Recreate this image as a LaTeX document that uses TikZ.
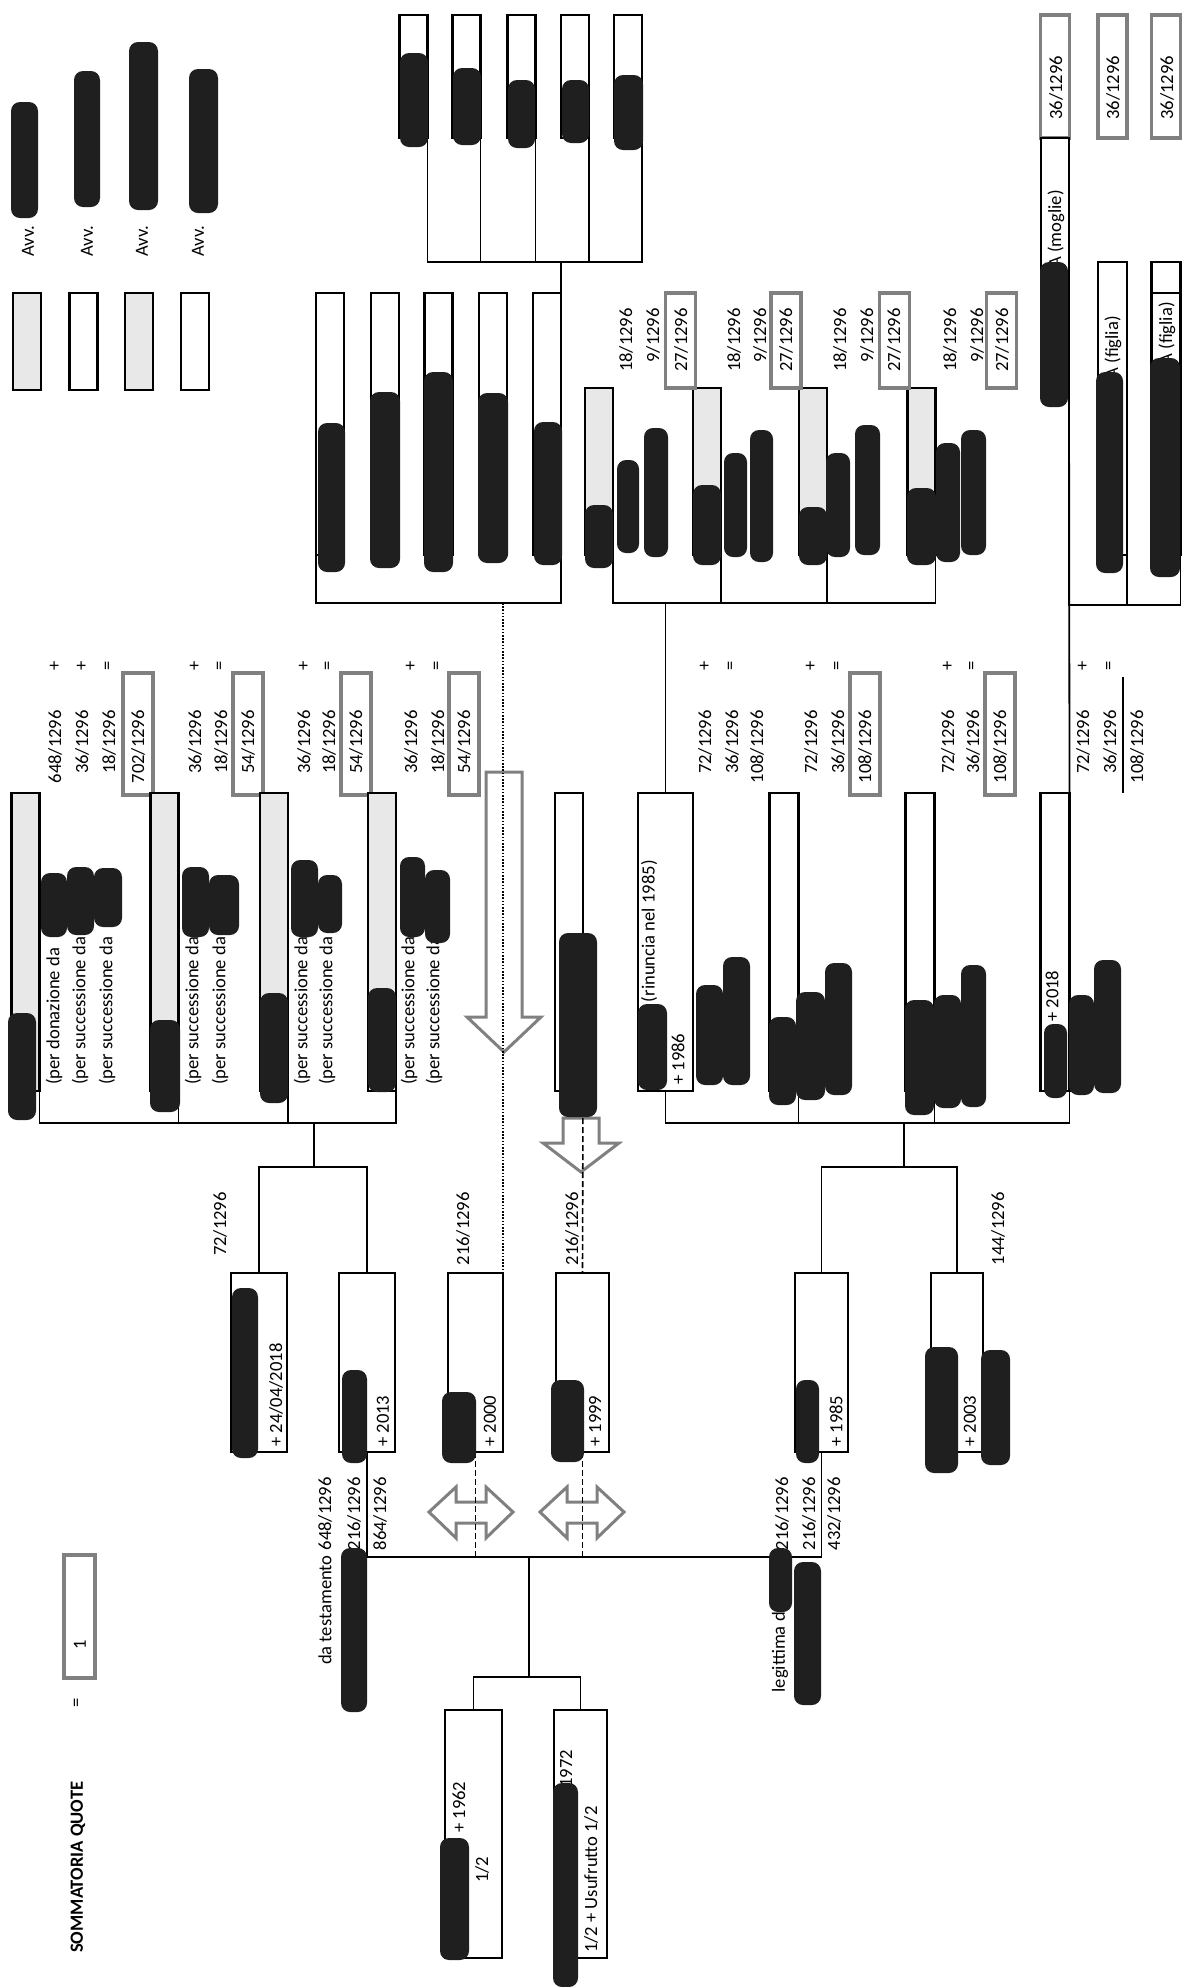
\documentclass[tikz,border=0pt]{standalone}
\usepackage{fontspec}
\setmainfont{Carlito}
\newcommand{\qfont}{\fontsize{18.6}{22}\selectfont}

\begin{document}
\begin{tikzpicture}
  [x=1pt,y=-1pt,
   person/.style={rectangle,draw=black,line width=2.6pt,fill=white,
                  outer sep=0,inner sep=0,minimum width=28pt},
   shaded/.style={person,fill=black!9},
   quota/.style={rectangle,draw=black!50,line width=3.5pt,fill=white,
                 outer sep=0,inner sep=0,minimum width=30pt},
   txt/.style={rotate=90,inner sep=0,font=\qfont},
   link/.style={line width=1.8pt},
   dotline/.style={line width=1.6pt,dash pattern=on 1.6pt off 1.6pt},
   dashline/.style={line width=1.6pt,dash pattern=on 6pt off 3pt},
   hollow/.style={draw=black!50,line width=3pt,fill=white,line join=miter},
   ink/.style={fill=black!88,rounded corners=9pt}]
  \useasboundingbox (0,0) rectangle (1184,1987);

  % legenda
  \node[shaded,minimum height=97pt] (leg1) at (27,341.5) {};
  \node[person,minimum height=97pt] (leg2) at (83.5,341.5) {};
  \node[shaded,minimum height=97pt] (leg3) at (139,341.5) {};
  \node[person,minimum height=97pt] (leg4) at (195,341.5) {};
  \node[txt,anchor=west] (avv1) at (28,257) {Avv.};
  \node[txt,anchor=west] (avv2) at (87,257) {Avv.};
  \node[txt,anchor=west] (avv3) at (142,257) {Avv.};
  \node[txt,anchor=west] (avv4) at (198,257) {Avv.};

  % pronipoti in alto
  \node[person,minimum height=123pt] (t1) at (413.5,76.5) {};
  \node[person,minimum height=123pt] (t2) at (466.5,76.5) {};
  \node[person,minimum height=123pt] (t3) at (521.5,76.5) {};
  \node[person,minimum height=123pt] (t4) at (575,76.5) {};
  \node[person,minimum height=123pt] (t5) at (628,76.5) {};
  \node[person,minimum height=262pt] (m1) at (330,424) {};
  \node[person,minimum height=262pt] (m2) at (385,424) {};
  \node[person,minimum height=262pt] (m3) at (438.5,424) {};
  \node[person,minimum height=262pt] (m4) at (493,424) {};
  \node[person,minimum height=262pt] (m5) at (547,424) {};
  \coordinate (tbar) at (561,262);
  \coordinate (mbar) at (503,603);
  \draw[link] (t1.south east) |- (t5.south east |- tbar) -- (t5.south east);
  \draw[link] (t2.south east) -- (t2.south east |- tbar);
  \draw[link] (t3.south east) -- (t3.south east |- tbar);
  \draw[link] (t4.south east) -- (t4.south east |- tbar);
  \draw[link] (tbar) -- (m5.north east);
  \draw[link] (m1.south west) |- (m5.south east |- mbar) -- (m5.south east);

  % nipoti (ramo destro)
  \node[shaded,minimum height=167pt] (k1) at (599,471.5) {};
  \node[shaded,minimum height=167pt] (k2) at (707,471.5) {};
  \node[shaded,minimum height=167pt] (k3) at (813,471.5) {};
  \node[shaded,minimum height=167pt] (k4) at (921.5,471.5) {};
  \node[quota,minimum height=95pt] (r1) at (680.5,340.5) {};
  \node[quota,minimum height=95pt] (r2) at (786,340.5) {};
  \node[quota,minimum height=95pt] (r3) at (894.5,340.5) {};
  \node[quota,minimum height=95pt] (r4) at (1001.5,340.5) {};
  \node[txt,anchor=east] (r1a) at (626,308) {18/1296};
  \node[txt,anchor=east] (r1b) at (653,308) {9/1296};
  \node[txt,anchor=east] (r1c) at (681,308) {27/1296};
  \node[txt,anchor=east] (r2a) at (734,308) {18/1296};
  \node[txt,anchor=east] (r2b) at (760,308) {9/1296};
  \node[txt,anchor=east] (r2c) at (786,308) {27/1296};
  \node[txt,anchor=east] (r3a) at (840,308) {18/1296};
  \node[txt,anchor=east] (r3b) at (867,308) {9/1296};
  \node[txt,anchor=east] (r3c) at (894,308) {27/1296};
  \node[txt,anchor=east] (r4a) at (950,308) {18/1296};
  \node[txt,anchor=east] (r4b) at (977,308) {9/1296};
  \node[txt,anchor=east] (r4c) at (1002,308) {27/1296};
  \coordinate (kbar) at (665.5,603);
  \draw[link] (k1.south east) |- (k4.south east |- kbar) -- (k4.south east);
  \draw[link] (k2.south east) -- (k2.south east |- kbar);
  \draw[link] (k3.south east) -- (k3.south east |- kbar);

  % moglie e figlie
  \node[quota,minimum width=29pt,minimum height=123pt] (s1) at (1055,76.5) {};
  \node[quota,minimum width=29pt,minimum height=123pt] (s2) at (1112.5,76.5) {};
  \node[quota,minimum width=29pt,minimum height=123pt] (s3) at (1166,76.5) {};
  \node[txt,anchor=west] (s1t) at (1056,120) {36/1296};
  \node[txt,anchor=west] (s2t) at (1113,120) {36/1296};
  \node[txt,anchor=west] (s3t) at (1167,120) {36/1296};
  \node[person,minimum height=255pt] (w) at (1055,265.5) {};
  \node[person,minimum width=29pt,minimum height=293pt] (f1) at (1112.5,408.5) {};
  \node[person,minimum width=29pt,minimum height=293pt] (f2) at (1166,408.5) {};
  \draw[line width=2.6pt] ([yshift=-31pt]f2.north west) -- ([yshift=-31pt]f2.north east);
  \node[txt,anchor=east] (wt) at (1056,190) {A (moglie)};
  \node[txt,anchor=east] (f1t) at (1113,316) {A (figlia)};
  \node[txt,anchor=east] (f2t) at (1167,302) {A (figlia)};
  \coordinate (wbar) at (1069,605);
  \draw[link] (w.south east) |- (f2.south east |- wbar) -- (f2.south east);
  \draw[link] (f1.south east) -- (f1.south east |- wbar);

  % somme quote
  \node[quota,minimum height=122pt] (q1) at (138,734) {};
  \node[quota,minimum height=122pt] (q2) at (248,734) {};
  \node[quota,minimum height=122pt] (q3) at (356,734) {};
  \node[quota,minimum height=122pt] (q4) at (464,734) {};
  \node[quota,minimum height=122pt] (q6) at (865,734) {};
  \node[quota,minimum height=122pt] (q7) at (1000,734) {};
  \node[txt,anchor=east] (n11) at (55,710) {648/1296};
  \node[txt,anchor=east] (n12) at (82,710) {36/1296};
  \node[txt,anchor=east] (n13) at (109,710) {18/1296};
  \node[txt,anchor=east] (n14) at (138,710) {702/1296};
  \node[txt] (o11) at (55,666) {+};
  \node[txt] (o12) at (82,666) {+};
  \node[txt] (o13) at (109,666) {=};
  \node[txt,anchor=east] (n21) at (195,710) {36/1296};
  \node[txt,anchor=east] (n22) at (221,710) {18/1296};
  \node[txt,anchor=east] (n23) at (248,710) {54/1296};
  \node[txt] (o21) at (195,666) {+};
  \node[txt] (o22) at (221,666) {=};
  \node[txt,anchor=east] (n31) at (304,710) {36/1296};
  \node[txt,anchor=east] (n32) at (329,710) {18/1296};
  \node[txt,anchor=east] (n33) at (356,710) {54/1296};
  \node[txt] (o31) at (304,666) {+};
  \node[txt] (o32) at (329,666) {=};
  \node[txt,anchor=east] (n41) at (411,710) {36/1296};
  \node[txt,anchor=east] (n42) at (438,710) {18/1296};
  \node[txt,anchor=east] (n43) at (464,710) {54/1296};
  \node[txt] (o41) at (411,666) {+};
  \node[txt] (o42) at (438,666) {=};
  \node[txt,anchor=east] (n51) at (705,710) {72/1296};
  \node[txt,anchor=east] (n52) at (732,710) {36/1296};
  \node[txt,anchor=east] (n53) at (757,710) {108/1296};
  \node[txt] (o51) at (705,666) {+};
  \node[txt] (o52) at (732,666) {=};
  \node[txt,anchor=east] (n61) at (811,710) {72/1296};
  \node[txt,anchor=east] (n62) at (838,710) {36/1296};
  \node[txt,anchor=east] (n63) at (865,710) {108/1296};
  \node[txt] (o61) at (811,666) {+};
  \node[txt] (o62) at (838,666) {=};
  \node[txt,anchor=east] (n71) at (948,710) {72/1296};
  \node[txt,anchor=east] (n72) at (973,710) {36/1296};
  \node[txt,anchor=east] (n73) at (1000,710) {108/1296};
  \node[txt] (o71) at (948,666) {+};
  \node[txt] (o72) at (973,666) {=};
  \node[txt,anchor=east] (n81) at (1083,710) {72/1296};
  \node[txt,anchor=east] (n82) at (1110,710) {36/1296};
  \node[txt,anchor=east] (n83) at (1137,710) {108/1296};
  \node[txt] (o81) at (1083,666) {+};
  \node[txt] (o82) at (1110,666) {=};
  \draw[link] (1123,677) -- (1123,793);

  % figli
  \node[shaded,minimum height=298pt] (g1) at (25.5,942) {};
  \node[shaded,minimum height=298pt] (g2) at (164.5,942) {};
  \node[shaded,minimum height=298pt] (g3) at (274,942) {};
  \node[shaded,minimum height=298pt] (g4) at (382,942) {};
  \node[person,minimum height=298pt] (u) at (569,942) {};
  \node[person,minimum width=55pt,minimum height=298pt] (h1) at (665.5,942) {};
  \node[person,minimum width=29pt,minimum height=298pt] (h2) at (784,942) {};
  \node[person,minimum width=29pt,minimum height=298pt] (h3) at (920,942) {};
  \node[person,minimum width=29pt,minimum height=298pt] (h4) at (1055,942) {};
  \node[txt,anchor=west] (g1a) at (54,1085) {(per donazione da};
  \node[txt,anchor=west] (g1b) at (80,1085) {(per successione da};
  \node[txt,anchor=west] (g1c) at (107,1085) {(per successione da};
  \node[txt,anchor=west] (g2a) at (193,1085) {(per successione da};
  \node[txt,anchor=west] (g2b) at (220,1085) {(per successione da};
  \node[txt,anchor=west] (g3a) at (302,1085) {(per successione da};
  \node[txt,anchor=west] (g3b) at (327,1085) {(per successione da};
  \node[txt,anchor=west] (g4a) at (409,1085) {(per successione da};
  \node[txt,anchor=west] (g4b) at (434,1085) {(per successione da};
  \node[txt,anchor=west] (h1a) at (678,1085) {+ 1986};
  \node[txt,anchor=east] (h1b) at (649,860) {(rinuncia nel 1985)};
  \node[txt,anchor=west] (h4a) at (1052,1022) {+ 2018};
  \coordinate (gbar) at (314,1123);
  \coordinate (hbar) at (904,1123);
  \draw[link] (g1.south east) |- (g4.south east |- gbar) -- (g4.south east);
  \draw[link] (g2.south east) -- (g2.south east |- gbar);
  \draw[link] (g3.south east) -- (g3.south east |- gbar);
  \draw[link] (h1.south) |- (h4.south east |- hbar) -- (h4.south east);
  \draw[link] (h2.south east) -- (h2.south east |- hbar);
  \draw[link] (h3.south east) -- (h3.south east |- hbar);
  \draw[link] (kbar) -- (h1.north);
  \draw[link] (w.south east) -- (h4.north east);

  % frecce
  \draw[hollow] (486,772) -- (522,772) -- (522,1017) -- (541,1017) -- (504,1052)
    -- (467,1017) -- (486,1017) -- cycle;
  \draw[hollow] (563,1118) -- (599,1118) -- (599,1143) -- (619,1143) -- (581,1172)
    -- (543,1143) -- (563,1143) -- cycle;
  \draw[hollow] (429,1512) -- (456,1487) -- (456,1502) -- (486,1502) -- (486,1487)
    -- (513,1512) -- (486,1538) -- (486,1523) -- (456,1523) -- (456,1538) -- cycle;
  \draw[hollow] (540,1512) -- (567,1487) -- (567,1502) -- (597,1502) -- (597,1487)
    -- (624,1512) -- (597,1538) -- (597,1523) -- (567,1523) -- (567,1538) -- cycle;

  % genitori
  \node[person,minimum width=56pt,minimum height=179pt] (p1) at (259,1362.5) {};
  \node[person,minimum width=56pt,minimum height=179pt] (p2) at (367,1362.5) {};
  \node[person,minimum width=55pt,minimum height=179pt] (p3) at (475.5,1362.5) {};
  \node[person,minimum width=53pt,minimum height=179pt] (p4) at (582.5,1362.5) {};
  \node[person,minimum width=53pt,minimum height=179pt] (p5) at (821.5,1362.5) {};
  \node[person,minimum width=52pt,minimum height=179pt] (p6) at (957,1362.5) {};
  \node[txt,anchor=west] (p1t) at (276,1447) {+ 24/04/2018};
  \node[txt,anchor=west] (p2t) at (383,1447) {+ 2013};
  \node[txt,anchor=west] (p3t) at (490,1447) {+ 2000};
  \node[txt,anchor=west] (p4t) at (595,1447) {+ 1999};
  \node[txt,anchor=west] (p5t) at (836,1447) {+ 1985};
  \node[txt,anchor=west] (p6t) at (970,1447) {+ 2003};
  \node[txt,anchor=east] (p1q) at (220,1192) {72/1296};
  \node[txt,anchor=east] (p3q) at (463,1192) {216/1296};
  \node[txt,anchor=east] (p4q) at (572,1192) {216/1296};
  \node[txt,anchor=east] (p6q) at (998,1192) {144/1296};
  \coordinate (pbar1) at (314,1167);
  \coordinate (pbar2) at (904,1167);
  \draw[link] (gbar) -- (pbar1);
  \draw[link] (p1.north) |- (p2.north |- pbar1) -- (p2.north);
  \draw[link] (hbar) -- (pbar2);
  \draw[link] (p5.north) |- (p6.north |- pbar2) -- (p6.north);
  \draw[dotline] (mbar) -- (p3.north east);
  \draw[dashline] (u.south east) -- (p4.north);

  % capostipiti
  \node[person,minimum width=57pt,minimum height=248pt] (a1) at (473.5,1834) {};
  \node[person,minimum width=53pt,minimum height=248pt] (a2) at (580.5,1834) {};
  \node[txt,anchor=west] (a1a) at (459,1833) {+ 1962};
  \node[txt,anchor=west] (a1b) at (482,1883) {1/2};
  \node[txt,anchor=west] (a2a) at (566,1788) {1972};
  \node[txt,anchor=west] (a2b) at (591,1953) {1/2 + Usufrutto 1/2};
  \node[txt,anchor=east] (e1) at (325,1555) {da testamento};
  \node[txt,anchor=east] (e2) at (325,1477) {648/1296};
  \node[txt,anchor=east] (e3) at (354,1477) {216/1296};
  \node[txt,anchor=east] (e4) at (380,1477) {864/1296};
  \node[txt,anchor=east] (l1) at (780,1603) {legittima da};
  \node[txt,anchor=east] (l2) at (782,1477) {216/1296};
  \node[txt,anchor=east] (l3) at (809,1477) {216/1296};
  \node[txt,anchor=east] (l4) at (834,1477) {432/1296};
  \coordinate (abar) at (529,1557);
  \coordinate (rbar) at (529,1677);
  \draw[link] (p2.south) |- (p5.south |- abar) -- (p5.south);
  \draw[dashline] (p3.south) -- (p3.south |- abar);
  \draw[dashline] (p4.south) -- (p4.south |- abar);
  \draw[link] (abar) -- (rbar);
  \draw[link] (a1.north) |- (a2.north |- rbar) -- (a2.north);

  % sommatoria
  \node[txt,anchor=west,font=\qfont\bfseries] (somma) at (78,1953) {SOMMATORIA QUOTE};
  \node[txt] (uguale) at (78,1703) {=};
  \node[quota,minimum width=31pt,minimum height=123pt] (z) at (79.5,1616.5) {};
  \node[txt,anchor=west] (zt) at (80,1650) {1};

  % nomi oscurati
  \fill[ink] (11,102) rectangle (38,218);
  \fill[ink] (74,71) rectangle (100,207);
  \fill[ink] (129,42) rectangle (158,210);
  \fill[ink] (189,69) rectangle (218,213);
  \fill[ink] (400,53) rectangle (428,147);
  \fill[ink] (453,68) rectangle (481,145);
  \fill[ink] (508,80) rectangle (535,148);
  \fill[ink] (562,80) rectangle (589,143);
  \fill[ink] (614,75) rectangle (643,150);
  \fill[ink] (318,423) rectangle (345,572);
  \fill[ink] (370,392) rectangle (400,568);
  \fill[ink] (424,372) rectangle (453,572);
  \fill[ink] (478,393) rectangle (508,563);
  \fill[ink] (534,422) rectangle (562,565);
  \fill[ink] (585,505) rectangle (613,568);
  \fill[ink] (693,485) rectangle (721,565);
  \fill[ink] (799,507) rectangle (827,565);
  \fill[ink] (907,488) rectangle (936,565);
  \fill[ink] (617,460) rectangle (639,553);
  \fill[ink] (644,428) rectangle (668,557);
  \fill[ink] (724,453) rectangle (747,557);
  \fill[ink] (750,430) rectangle (773,562);
  \fill[ink] (826,453) rectangle (850,557);
  \fill[ink] (855,425) rectangle (880,555);
  \fill[ink] (936,443) rectangle (960,562);
  \fill[ink] (961,430) rectangle (986,555);
  \fill[ink] (1040,262) rectangle (1068,407);
  \fill[ink] (1096,372) rectangle (1123,573);
  \fill[ink] (1150,358) rectangle (1180,577);
  \fill[ink] (8,1013) rectangle (36,1120);
  \fill[ink] (150,1020) rectangle (180,1112);
  \fill[ink] (260,993) rectangle (288,1103);
  \fill[ink] (368,988) rectangle (396,1092);
  \fill[ink] (41,873) rectangle (67,937);
  \fill[ink] (67,867) rectangle (94,935);
  \fill[ink] (94,868) rectangle (122,927);
  \fill[ink] (182,867) rectangle (209,937);
  \fill[ink] (209,875) rectangle (239,935);
  \fill[ink] (291,860) rectangle (318,937);
  \fill[ink] (318,875) rectangle (342,933);
  \fill[ink] (400,857) rectangle (425,937);
  \fill[ink] (425,870) rectangle (450,943);
  \fill[ink] (559,933) rectangle (597,1117);
  \fill[ink] (638,1004) rectangle (667,1090);
  \fill[ink] (696,985) rectangle (723,1085);
  \fill[ink] (723,957) rectangle (750,1085);
  \fill[ink] (769,1017) rectangle (796,1105);
  \fill[ink] (796,992) rectangle (825,1100);
  \fill[ink] (825,963) rectangle (852,1095);
  \fill[ink] (905,1000) rectangle (934,1115);
  \fill[ink] (934,995) rectangle (961,1108);
  \fill[ink] (961,965) rectangle (986,1107);
  \fill[ink] (1044,1024) rectangle (1067,1098);
  \fill[ink] (1069,995) rectangle (1094,1095);
  \fill[ink] (1094,960) rectangle (1121,1093);
  \fill[ink] (232,1288) rectangle (258,1458);
  \fill[ink] (342,1370) rectangle (367,1463);
  \fill[ink] (442,1392) rectangle (476,1463);
  \fill[ink] (551,1380) rectangle (584,1462);
  \fill[ink] (796,1380) rectangle (819,1463);
  \fill[ink] (925,1347) rectangle (958,1473);
  \fill[ink] (981,1350) rectangle (1010,1465);
  \fill[ink] (341,1548) rectangle (367,1712);
  \fill[ink] (769,1548) rectangle (792,1612);
  \fill[ink] (794,1562) rectangle (821,1705);
  \fill[ink] (440,1838) rectangle (469,1960);
  \fill[ink] (553,1783) rectangle (578,1987);
\end{tikzpicture}
\end{document}
